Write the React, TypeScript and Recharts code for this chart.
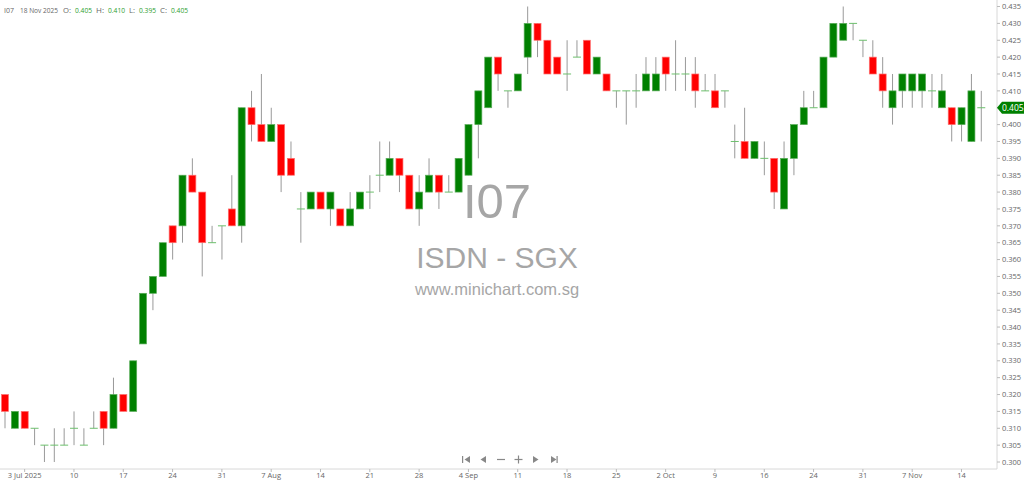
import React from 'react';
import { ComposedChart, Bar, XAxis, YAxis, ReferenceLine } from 'recharts';

// trading days shown on the chart (20 Oct is a holiday)
const dates = [
  '1 Jul', '2 Jul', '3 Jul', '4 Jul', '7 Jul', '8 Jul', '9 Jul', '10 Jul', '11 Jul', '14 Jul',
  '15 Jul', '16 Jul', '17 Jul', '18 Jul', '21 Jul', '22 Jul', '23 Jul', '24 Jul', '25 Jul', '28 Jul',
  '29 Jul', '30 Jul', '31 Jul', '1 Aug', '4 Aug', '5 Aug', '6 Aug', '7 Aug', '8 Aug', '11 Aug',
  '12 Aug', '13 Aug', '14 Aug', '15 Aug', '18 Aug', '19 Aug', '20 Aug', '21 Aug', '22 Aug', '25 Aug',
  '26 Aug', '27 Aug', '28 Aug', '29 Aug', '1 Sep', '2 Sep', '3 Sep', '4 Sep', '5 Sep', '8 Sep',
  '9 Sep', '10 Sep', '11 Sep', '12 Sep', '15 Sep', '16 Sep', '17 Sep', '18 Sep', '19 Sep', '22 Sep',
  '23 Sep', '24 Sep', '25 Sep', '26 Sep', '29 Sep', '30 Sep', '1 Oct', '2 Oct', '3 Oct', '6 Oct',
  '7 Oct', '8 Oct', '9 Oct', '10 Oct', '13 Oct', '14 Oct', '15 Oct', '16 Oct', '17 Oct', '21 Oct',
  '22 Oct', '23 Oct', '24 Oct', '27 Oct', '28 Oct', '29 Oct', '30 Oct', '31 Oct', '3 Nov', '4 Nov',
  '5 Nov', '6 Nov', '7 Nov', '10 Nov', '11 Nov', '12 Nov', '13 Nov', '14 Nov', '17 Nov', '18 Nov',
];

const opens = [
  0.320, 0.310, 0.315, 0.310, 0.305, 0.305, 0.305, 0.310, 0.305, 0.310,
  0.315, 0.310, 0.320, 0.315, 0.335, 0.350, 0.355, 0.370, 0.370, 0.385,
  0.380, 0.365, 0.370, 0.375, 0.370, 0.405, 0.400, 0.395, 0.400, 0.390,
  0.375, 0.375, 0.380, 0.375, 0.375, 0.370, 0.375, 0.380, 0.385, 0.385,
  0.390, 0.385, 0.375, 0.380, 0.385, 0.380, 0.380, 0.385, 0.400, 0.405,
  0.420, 0.410, 0.410, 0.420, 0.430, 0.425, 0.420, 0.415, 0.420, 0.425,
  0.415, 0.415, 0.410, 0.410, 0.410, 0.410, 0.410, 0.420, 0.415, 0.415,
  0.415, 0.410, 0.410, 0.410, 0.395, 0.395, 0.390, 0.390, 0.390, 0.375,
  0.390, 0.400, 0.405, 0.405, 0.420, 0.425, 0.430, 0.425, 0.420, 0.415,
  0.405, 0.410, 0.410, 0.410, 0.410, 0.405, 0.405, 0.400, 0.395, 0.405,
];

const highs = [
  0.320, 0.315, 0.315, 0.310, 0.305, 0.310, 0.310, 0.315, 0.310, 0.315,
  0.315, 0.325, 0.320, 0.330, 0.350, 0.355, 0.365, 0.370, 0.385, 0.390,
  0.380, 0.370, 0.370, 0.385, 0.405, 0.410, 0.415, 0.405, 0.400, 0.395,
  0.380, 0.380, 0.380, 0.380, 0.375, 0.380, 0.380, 0.385, 0.395, 0.395,
  0.390, 0.385, 0.385, 0.390, 0.385, 0.385, 0.390, 0.400, 0.410, 0.420,
  0.420, 0.410, 0.415, 0.435, 0.430, 0.425, 0.420, 0.425, 0.425, 0.425,
  0.420, 0.415, 0.410, 0.410, 0.415, 0.420, 0.420, 0.420, 0.425, 0.420,
  0.420, 0.415, 0.415, 0.410, 0.400, 0.405, 0.395, 0.395, 0.390, 0.395,
  0.400, 0.410, 0.410, 0.420, 0.430, 0.435, 0.430, 0.425, 0.425, 0.420,
  0.415, 0.415, 0.415, 0.415, 0.415, 0.415, 0.405, 0.405, 0.415, 0.410,
];

const lows = [
  0.310, 0.310, 0.310, 0.305, 0.300, 0.300, 0.305, 0.305, 0.305, 0.310,
  0.305, 0.310, 0.315, 0.315, 0.335, 0.345, 0.355, 0.360, 0.365, 0.380,
  0.355, 0.365, 0.360, 0.370, 0.365, 0.395, 0.395, 0.395, 0.380, 0.385,
  0.365, 0.375, 0.375, 0.370, 0.370, 0.370, 0.375, 0.375, 0.380, 0.385,
  0.380, 0.375, 0.370, 0.380, 0.375, 0.380, 0.380, 0.385, 0.390, 0.405,
  0.410, 0.405, 0.410, 0.415, 0.420, 0.415, 0.415, 0.410, 0.420, 0.415,
  0.415, 0.410, 0.405, 0.400, 0.405, 0.410, 0.410, 0.410, 0.410, 0.410,
  0.405, 0.410, 0.405, 0.405, 0.390, 0.390, 0.390, 0.385, 0.375, 0.375,
  0.385, 0.400, 0.405, 0.405, 0.420, 0.425, 0.425, 0.420, 0.415, 0.405,
  0.400, 0.405, 0.405, 0.405, 0.405, 0.405, 0.395, 0.395, 0.395, 0.395,
];

const closes = [
  0.315, 0.315, 0.310, 0.310, 0.305, 0.305, 0.305, 0.310, 0.305, 0.310,
  0.310, 0.320, 0.315, 0.330, 0.350, 0.355, 0.365, 0.365, 0.385, 0.380,
  0.365, 0.365, 0.370, 0.370, 0.405, 0.400, 0.395, 0.400, 0.385, 0.385,
  0.375, 0.380, 0.375, 0.380, 0.370, 0.375, 0.380, 0.380, 0.385, 0.390,
  0.385, 0.375, 0.380, 0.385, 0.380, 0.380, 0.390, 0.400, 0.410, 0.420,
  0.415, 0.410, 0.415, 0.430, 0.425, 0.415, 0.415, 0.415, 0.420, 0.415,
  0.420, 0.410, 0.410, 0.410, 0.410, 0.415, 0.415, 0.415, 0.415, 0.415,
  0.410, 0.410, 0.405, 0.410, 0.395, 0.390, 0.395, 0.390, 0.380, 0.390,
  0.400, 0.405, 0.405, 0.420, 0.430, 0.430, 0.430, 0.425, 0.415, 0.410,
  0.410, 0.415, 0.415, 0.415, 0.410, 0.410, 0.400, 0.405, 0.410, 0.405,
];

const tickDates = [
  '3 Jul', '10 Jul', '17 Jul', '24 Jul', '31 Jul', '7 Aug', '14 Aug', '21 Aug', '28 Aug', '4 Sep',
  '11 Sep', '18 Sep', '25 Sep', '2 Oct', '9 Oct', '16 Oct', '24 Oct', '31 Oct', '7 Nov', '14 Nov',
];
const tickTexts = [
  '3 Jul 2025', '10', '17', '24', '31', '7 Aug', '14', '21', '28', '4 Sep',
  '11', '18', '25', '2 Oct', '9', '16', '24', '31', '7 Nov', '14',
];

const yTicks = [
  0.300, 0.305, 0.310, 0.315, 0.320, 0.325, 0.330, 0.335, 0.340, 0.345,
  0.350, 0.355, 0.360, 0.365, 0.370, 0.375, 0.380, 0.385, 0.390, 0.395,
  0.400, 0.405, 0.410, 0.415, 0.420, 0.425, 0.430, 0.435,
];

const UP = '#008000';
const DOWN = '#ff0000';
const WICK = '#999';
const DOJI = '#6cbf6c';

const data = dates.map((d, i) => ({
  i,
  date: d,
  open: opens[i],
  high: highs[i],
  low: lows[i],
  close: closes[i],
  range: [lows[i], highs[i]],
}));

const xTicks = tickDates.map((d) => dates.indexOf(d));
const last = data[data.length - 1];

const Candle = (props: any) => {
  const { x, y, width, height, payload } = props;
  if (x == null || y == null) return null;
  const top = Math.min(y, y + height);
  const h = Math.abs(height);
  const span = payload.high - payload.low;
  const ratio = span > 0 ? h / span : 0;
  const cx = x + width / 2;
  const yOpen = top + (payload.high - payload.open) * ratio;
  const yClose = top + (payload.high - payload.close) * ratio;
  const bodyTop = Math.min(yOpen, yClose);
  const bodyH = Math.abs(yOpen - yClose);
  const isUp = payload.close >= payload.open;
  return (
    <g>
      <line x1={cx} x2={cx} y1={top} y2={top + h} stroke={WICK} strokeWidth={1} />
      {bodyH < 0.5 ? (
        <line x1={x} x2={x + width} y1={yOpen} y2={yOpen} stroke={DOJI} strokeWidth={1} />
      ) : (
        <rect
          x={x + 0.5}
          y={bodyTop}
          width={width - 1}
          height={bodyH}
          fill={isUp ? UP : DOWN}
          stroke={isUp ? '#5aad5a' : '#ff7070'}
          strokeWidth={0.7}
        />
      )}
    </g>
  );
};

const fontFamily = "'Open Sans', 'Noto Sans', sans-serif";

// right axis label; the last close gets the green tag instead of a plain label
const YTick = (props: any) => {
  const { x, y, payload } = props;
  const v = payload.value;
  if (Math.abs(v - last.close) < 1e-9) {
    const ax = x - 5;
    return (
      <g>
        <polygon
          points={`${ax},${y} ${ax + 5},${y - 6} ${ax + 28},${y - 6} ${ax + 28},${y + 6} ${ax + 5},${y + 6}`}
          fill={UP}
        />
        <text x={ax + 5} y={y + 3} fill="#fff" fontSize={8.5} fontFamily={fontFamily}>
          {v.toFixed(3)}
        </text>
      </g>
    );
  }
  return (
    <text x={x} y={y + 2.7} fill="#666" fontSize={7.5} fontFamily={fontFamily}>
      {v.toFixed(3)}
    </text>
  );
};

const navIcons = (
  <g fill="#888" stroke="#888">
    {/* first */}
    <rect x={462} y={456} width={1.2} height={7} stroke="none" />
    <polygon points="470,456 470,463 464.5,459.5" stroke="none" />
    {/* prev */}
    <polygon points="486,456 486,463 480.5,459.5" stroke="none" />
    {/* zoom out */}
    <line x1={497} x2={505} y1={459.5} y2={459.5} strokeWidth={1.2} />
    {/* zoom in */}
    <line x1={514.5} x2={522.5} y1={459.5} y2={459.5} strokeWidth={1.2} />
    <line x1={518.5} x2={518.5} y1={455.5} y2={463.5} strokeWidth={1.2} />
    {/* next */}
    <polygon points="533,456 533,463 538.5,459.5" stroke="none" />
    {/* last */}
    <polygon points="551,456 551,463 556.5,459.5" stroke="none" />
    <rect x={556.5} y={456} width={1.2} height={7} stroke="none" />
  </g>
);

const hdr = { fontSize: 7.5, fontFamily, lengthAdjust: 'spacingAndGlyphs' as const };

export default function App() {
  return (
    <div style={{ position: 'fixed', left: 0, top: 0, width: 1024, height: 484, background: '#fff' }}>
      {/* watermark, header and navigation behind the chart */}
      <svg width={1024} height={484} style={{ position: 'absolute', left: 0, top: 0 }}>
        <text x={497} y={218} textAnchor="middle" fontSize={49} fill="#a6a6a6" fontFamily="'Liberation Sans', Arial, sans-serif">
          I07
        </text>
        <text x={497} y={268} textAnchor="middle" fontSize={30} fill="#a6a6a6" fontFamily="'Liberation Sans', Arial, sans-serif">
          ISDN - SGX
        </text>
        <text x={497} y={295} textAnchor="middle" fontSize={16.5} fill="#a6a6a6" fontFamily="'Liberation Sans', Arial, sans-serif">
          www.minichart.com.sg
        </text>
        <g fill="#666">
          <text x={4} y={13} textLength={10} {...hdr}>I07</text>
          <text x={20} y={13} textLength={38} {...hdr}>18 Nov 2025</text>
          <text x={63} y={13} textLength={8} {...hdr}>O:</text>
          <text x={75} y={13} textLength={17} {...hdr} fill="#2e9e2e">{last.open.toFixed(3)}</text>
          <text x={96} y={13} textLength={8} {...hdr}>H:</text>
          <text x={108} y={13} textLength={17} {...hdr} fill="#2e9e2e">{last.high.toFixed(3)}</text>
          <text x={129} y={13} textLength={6} {...hdr}>L:</text>
          <text x={139} y={13} textLength={17} {...hdr} fill="#2e9e2e">{last.low.toFixed(3)}</text>
          <text x={160} y={13} textLength={7} {...hdr}>C:</text>
          <text x={171} y={13} textLength={17} {...hdr} fill="#2e9e2e">{last.close.toFixed(3)}</text>
        </g>
        {navIcons}
      </svg>
      <div style={{ position: 'absolute', left: 0, top: 0 }}>
        <ComposedChart width={1024} height={484} data={data} margin={{ top: 0, right: 0, bottom: 0, left: 0 }}>
          <XAxis
            dataKey="i"
            type="number"
            domain={[-0.5, 100.6]}
            ticks={xTicks}
            interval={0}
            tickFormatter={(v: number) => tickTexts[xTicks.indexOf(v)] ?? ''}
            height={15}
            tickSize={3}
            tickMargin={1}
            axisLine={{ stroke: '#d8d8d8' }}
            tickLine={{ stroke: '#bbb' }}
            tick={{ fontSize: 7.5, fill: '#666', fontFamily }}
            allowDataOverflow
          />
          <YAxis
            orientation="right"
            type="number"
            domain={[0.29793, 0.43693]}
            ticks={yTicks}
            interval={0}
            width={27}
            tickSize={3}
            tickMargin={2}
            axisLine={{ stroke: '#d8d8d8' }}
            tickLine={{ stroke: '#bbb' }}
            tick={YTick}
            allowDataOverflow
          />
          <Bar dataKey="range" barSize={8} shape={Candle} isAnimationActive={false} />
        </ComposedChart>
      </div>
    </div>
  );
}
